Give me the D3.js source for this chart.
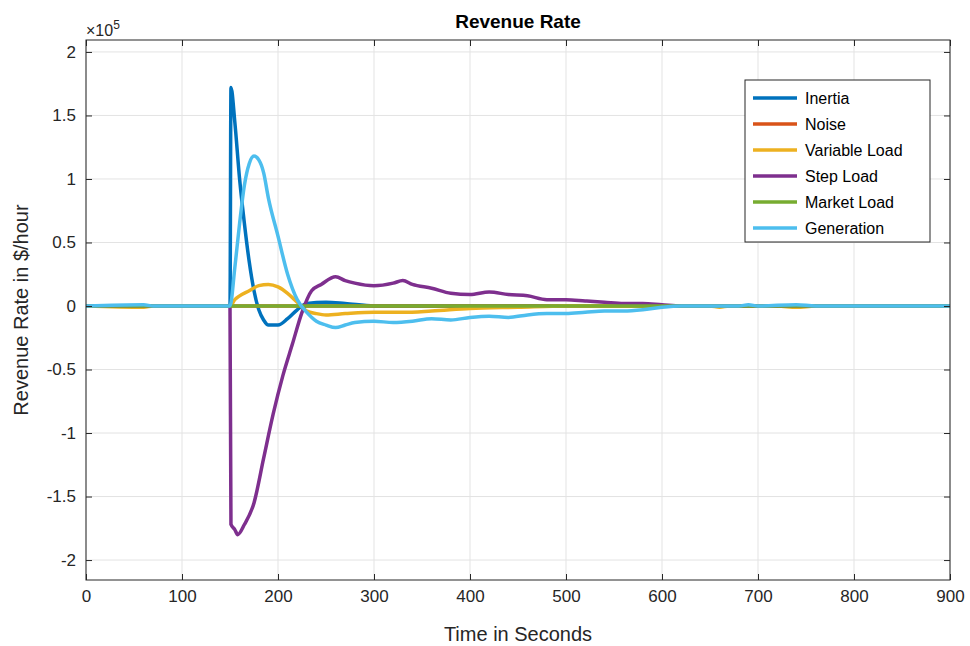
<!DOCTYPE html>
<html><head><meta charset="utf-8">
<script src="https://cdn.jsdelivr.net/npm/d3@7"></script>
<style>body{margin:0;background:#fff}text{font-family:Arial,"Liberation Sans",sans-serif}</style>
</head><body><svg id="c" width="970" height="646"></svg>
<script>
const seriesNames = ["Inertia","Noise","Variable Load","Step Load","Market Load","Generation"];
const colors = ["#0072BD","#D95319","#EDB120","#7E2F8E","#77AC30","#4DBEEE"];
const xTicks = [0,100,200,300,400,500,600,700,800,900];
const yTicks = [-2,-1.5,-1,-0.5,0,0.5,1,1.5,2];
// values in units of 1e5 $/hour, [time, value]
const inertia = [[0,0],[150,0],[151,1.72],[155,1.45],[160,1.0],[165,0.65],[170,0.35],[175,0.12],[180,-0.03],[185,-0.11],[190,-0.15],[200,-0.15],[210,-0.1],[220,-0.03],[230,0.02],[250,0.03],[270,0.02],[300,0],[900,0]];
const noise = [[0,0],[900,0]];
const variableLoad = [[0,0],[60,-0.01],[70,0],[150,0],[155,0.05],[160,0.08],[170,0.12],[180,0.16],[190,0.17],[200,0.15],[210,0.1],[220,0.03],[230,-0.04],[240,-0.06],[250,-0.07],[270,-0.06],[300,-0.05],[330,-0.05],[360,-0.04],[400,-0.02],[450,-0.01],[500,0],[650,0],[660,-0.01],[670,0],[720,0],[740,-0.01],[760,0],[900,0]];
const stepLoad = [[0,0],[150,0],[151,-1.72],[155,-1.76],[158,-1.8],[165,-1.72],[175,-1.55],[185,-1.2],[195,-0.85],[205,-0.55],[215,-0.3],[225,-0.05],[235,0.12],[245,0.17],[260,0.23],[270,0.2],[280,0.18],[300,0.16],[320,0.18],[330,0.2],[340,0.17],[360,0.14],[380,0.1],[400,0.09],[420,0.11],[440,0.09],[460,0.08],[480,0.05],[500,0.05],[520,0.04],[540,0.03],[560,0.02],[580,0.02],[600,0.01],[620,0],[900,0]];
const marketLoad = [[0,0],[900,0]];
const generation = [[0,0],[60,0.01],[70,0],[150,0],[155,0.3],[160,0.65],[165,0.95],[170,1.12],[175,1.18],[180,1.15],[185,1.05],[190,0.85],[200,0.55],[210,0.25],[220,0.05],[230,-0.05],[240,-0.12],[250,-0.15],[260,-0.17],[270,-0.15],[280,-0.13],[300,-0.12],[320,-0.13],[340,-0.12],[360,-0.1],[380,-0.11],[400,-0.09],[420,-0.08],[440,-0.09],[460,-0.07],[480,-0.06],[500,-0.06],[520,-0.05],[540,-0.04],[560,-0.04],[580,-0.03],[600,-0.01],[620,0],[680,0],[690,0.01],[700,0],[740,0.01],[760,0],[900,0]];
const allSeries = [inertia,noise,variableLoad,stepLoad,marketLoad,generation];

const L=86,R=950,T=40,B=580;
const svg=d3.select("#c");
const x=d3.scaleLinear().domain([0,900]).range([L,R]);
const y=d3.scaleLinear().domain([-2.157,2.094]).range([B,T]);

const g=svg.append("g");
g.selectAll(".gx").data(xTicks).enter().append("line").attr("x1",d=>x(d)).attr("x2",d=>x(d)).attr("y1",T).attr("y2",B).attr("stroke","#e3e3e3");
g.selectAll(".gy").data(yTicks).enter().append("line").attr("y1",d=>y(d)).attr("y2",d=>y(d)).attr("x1",L).attr("x2",R).attr("stroke","#e3e3e3");

const line=d3.line().x(d=>x(d[0])).y(d=>y(d[1])).curve(d3.curveMonotoneX);
allSeries.forEach((s,i)=>{
  g.append("path").datum(s).attr("d",line).attr("fill","none").attr("stroke",colors[i]).attr("stroke-width",3.5).attr("stroke-linejoin","round");
});

svg.append("rect").attr("x",L).attr("y",T).attr("width",R-L).attr("height",B-T).attr("fill","none").attr("stroke","#262626");
svg.append("g").attr("transform",`translate(0,${B})`).call(d3.axisBottom(x).tickValues(xTicks).tickSize(-6).tickPadding(10));
svg.append("g").attr("transform",`translate(${L},0)`).call(d3.axisLeft(y).tickValues(yTicks).tickSize(-6).tickPadding(10).tickFormat(d=>d));
svg.append("g").attr("transform",`translate(0,${T})`).call(d3.axisTop(x).tickValues(xTicks).tickSize(-6).tickFormat(""));
svg.append("g").attr("transform",`translate(${R},0)`).call(d3.axisRight(y).tickValues(yTicks).tickSize(-6).tickFormat(""));
svg.selectAll(".domain").remove();
svg.selectAll(".tick line").attr("stroke","#262626");
svg.selectAll(".tick text").attr("font-size",17).attr("fill","#262626");

svg.append("text").attr("x",(L+R)/2).attr("y",28).attr("text-anchor","middle").attr("font-size",19).attr("font-weight","bold").attr("fill","#000").text("Revenue Rate");
svg.append("text").attr("x",(L+R)/2).attr("y",641).attr("text-anchor","middle").attr("font-size",20).attr("fill","#262626").text("Time in Seconds");
svg.append("text").attr("transform",`translate(28,${(T+B)/2}) rotate(-90)`).attr("text-anchor","middle").attr("font-size",20).attr("fill","#262626").text("Revenue Rate in $/hour");
const ex=svg.append("text").attr("x",86).attr("y",36).attr("font-size",16).attr("fill","#262626");
ex.append("tspan").text("\u00d710");
ex.append("tspan").attr("dy",-7).attr("font-size",12).text("5");

const lg=svg.append("g").attr("transform","translate(745,80)");
lg.append("rect").attr("width",185).attr("height",162).attr("fill","#fff").attr("stroke","#262626");
seriesNames.forEach((n,i)=>{
  const yy=18+i*26;
  lg.append("line").attr("x1",8).attr("x2",52).attr("y1",yy).attr("y2",yy).attr("stroke",colors[i]).attr("stroke-width",3.5);
  lg.append("text").attr("x",60).attr("y",yy+6).attr("font-size",16).attr("fill","#000").text(n);
});
</script></body></html>
